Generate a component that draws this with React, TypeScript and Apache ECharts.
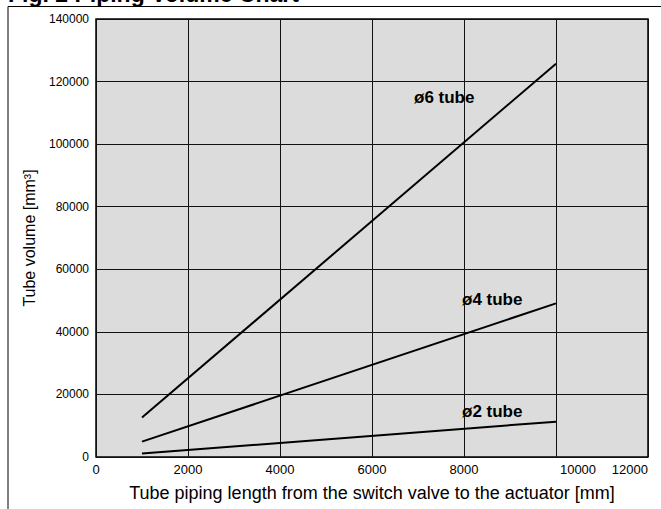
import React, { useEffect, useRef } from "react";
import * as echarts from "echarts";

const lengths = [1000, 10000];
const tube6 = [12600, 125700];
const tube4 = [4900, 49100];
const tube2 = [1100, 11300];
const seriesNames = ["ø6 tube", "ø4 tube", "ø2 tube"];
const xTitle = "Tube piping length from the switch valve to the actuator [mm]";
const yTitle = "Tube volume [mm³]";
const figTitle = "Fig. 2 Piping Volume Chart";

const FONT = "Liberation Sans, Arial, sans-serif";

export default function App() {
  const ref = useRef<HTMLDivElement>(null);
  useEffect(() => {
    if (!ref.current) return;
    const chart = echarts.init(ref.current, undefined, { renderer: "svg" });
    const mk = (vals: number[]) => lengths.map((x, i) => [x, vals[i]]);
    const lineSeries = (name: string, vals: number[]) => ({
      type: "line",
      name,
      data: mk(vals),
      symbol: "none",
      lineStyle: { color: "#000", width: 2 },
      z: 5,
    });
    const labelStyle = (text: string, x: number, y: number) => ({
      type: "text",
      x,
      y,
      z: 10,
      style: {
        text,
        fontSize: 17,
        fontWeight: "bold",
        fontFamily: FONT,
        fill: "#000",
        textVerticalAlign: "middle",
      },
    });
    chart.setOption({
      animation: false,
      backgroundColor: "#fff",
      textStyle: { fontFamily: FONT },
      grid: {
        left: 96,
        top: 19,
        right: 13,
        bottom: 52,
        show: true,
        backgroundColor: "#dcdcdc",
        borderColor: "#000",
        borderWidth: 1.5,
      },
      xAxis: {
        type: "value",
        min: 0,
        max: 12000,
        interval: 2000,
        name: xTitle,
        nameLocation: "middle",
        nameGap: 27,
        nameTextStyle: { fontSize: 18, color: "#000", fontFamily: FONT },
        axisLine: { show: false },
        axisTick: { show: false },
        axisLabel: {
          fontSize: 13,
          color: "#000",
          margin: 6,
          fontFamily: FONT,
          alignMaxLabel: "right",
          formatter: (v: number) => (v === 10000 ? "{s|" + v + "}" : String(v)),
          rich: { s: { fontSize: 13, fontFamily: FONT, color: "#000", padding: [0, 0, 0, 44] } },
        },
        splitLine: { show: true, lineStyle: { color: "#111", width: 1 } },
      },
      yAxis: {
        type: "value",
        min: 0,
        max: 140000,
        interval: 20000,
        name: yTitle,
        nameLocation: "middle",
        nameGap: 59,
        nameTextStyle: { fontSize: 16, color: "#000", fontFamily: FONT },
        axisLine: { show: false },
        axisTick: { show: false },
        axisLabel: {
          fontSize: 12,
          color: "#000",
          margin: 7,
          fontFamily: FONT,
          formatter: (v: number) => String(v),
        },
        splitLine: { show: true, lineStyle: { color: "#111", width: 1 } },
      },
      series: [
        lineSeries(seriesNames[0], tube6),
        lineSeries(seriesNames[1], tube4),
        lineSeries(seriesNames[2], tube2),
      ],
      graphic: [
        {
          type: "line",
          shape: { x1: 8, y1: 6.5, x2: 661, y2: 6.5 },
          style: { stroke: "#000", lineWidth: 1 },
        },
        {
          type: "line",
          shape: { x1: 8, y1: 6.5, x2: 8, y2: 509 },
          style: { stroke: "#000", lineWidth: 1 },
        },
        {
          type: "text",
          x: 8,
          y: 5,
          style: {
            text: figTitle,
            fontSize: 23,
            fontWeight: "bold",
            fontFamily: FONT,
            fill: "#000",
            textVerticalAlign: "bottom",
          },
        },
        labelStyle(seriesNames[0], 414, 97),
        labelStyle(seriesNames[1], 462, 299),
        labelStyle(seriesNames[2], 462, 411),
      ],
    });
    return () => chart.dispose();
  }, []);
  return (
    <div
      ref={ref}
      style={{ position: "absolute", left: 0, top: 0, width: 661, height: 509 }}
    />
  );
}
